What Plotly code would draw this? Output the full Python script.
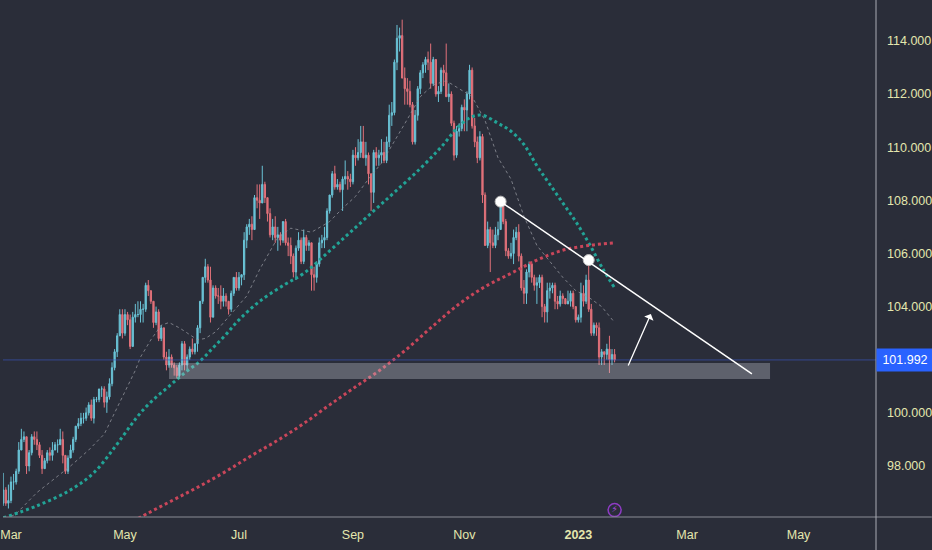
import pandas as pd
import plotly.graph_objects as go

# daily bars, US dollar index, 24 Feb 2022 -> 20 Jan 2023 (weekdays)
dates = pd.bdate_range("2022-02-24", "2023-01-20")

opens = [
    96.6, 97.1, 96.6,
    96.7, 97.4, 97.4, 97.8, 98.6, 99.0, 99.1, 98.0, 98.5, 99.1, 99.0, 98.8, 98.4, 97.9, 98.2, 98.5, 98.4, 98.6, 98.8, 98.8, 99.0, 98.4, 97.8,
    98.3, 98.6, 99.0, 99.5, 99.6, 99.8, 99.8, 100.0, 100.3, 99.8, 100.5, 100.5, 100.9, 100.9, 100.4, 100.6, 101.1, 101.7, 102.3, 102.9, 103.7,
    103.0, 103.7, 103.5, 102.5, 103.6, 103.7, 103.7, 103.9, 103.9, 104.8, 104.6, 104.2, 103.4, 103.8, 102.8, 103.2, 102.1, 101.8, 102.1, 101.8, 101.7, 101.4,
    101.8, 102.6, 101.8, 102.1, 102.4, 102.3, 102.6, 103.2, 104.2, 105.1, 105.5, 105.0, 103.6, 104.7, 104.4, 104.4, 104.2, 104.4, 104.2, 103.9, 104.5, 105.1,
    104.7, 105.1, 105.2, 106.5, 107.0, 107.1, 106.9, 108.1, 108.0, 107.9, 108.6, 108.1, 107.5, 106.7, 107.0, 106.6, 106.7, 106.5, 107.2, 106.4, 106.3,
    105.9, 105.3, 106.2, 106.5, 105.7, 106.6, 106.3, 106.4, 105.2, 105.1, 105.6, 106.4, 106.5, 106.6, 107.6, 108.2, 109.0, 108.5, 108.6, 108.4, 108.8, 108.9, 108.8,
    108.7, 109.7, 109.6, 109.8, 110.2, 109.6, 109.7, 109.0, 108.3, 109.8, 109.6, 109.7, 109.8, 109.5, 110.2, 111.2, 111.3, 113.2, 114.1, 114.2, 112.6, 112.2,
    112.1, 111.6, 110.2, 111.2, 112.2, 112.8, 113.1, 113.3, 113.2, 112.4, 113.3, 112.0, 112.1, 112.9, 112.8, 111.9, 112.0, 110.9, 109.7, 110.6, 110.7,
    111.5, 111.4, 112.0, 112.9, 110.8, 110.2, 109.6, 110.4, 108.2, 106.3, 106.9, 106.4, 106.3, 106.7, 106.9, 107.8, 107.2, 106.1, 105.9, 106.0, 106.6, 106.8,
    105.9, 104.7, 104.5, 105.3, 105.6, 105.1, 104.8, 104.9, 105.1, 104.0, 103.8, 104.6, 104.7, 104.8, 104.2, 104.1, 104.4, 104.3, 104.1, 104.2, 104.5, 104.0,
    103.5, 103.6, 104.5, 104.2, 105.0, 103.9, 103.0, 103.3, 103.2, 102.1, 102.3, 102.2, 102.4, 102.0, 102.2,
]
highs = [
    97.74, 97.2, 97.3,
    97.6, 97.7, 97.9, 98.9, 99.4, 99.3, 99.1, 98.6, 99.2, 99.3, 99.3, 98.9, 98.6, 98.3, 98.6, 98.7, 98.9, 98.9, 99.0, 99.4, 99.3, 98.4, 98.4,
    98.8, 99.1, 99.5, 99.8, 100.0, 100.0, 100.2, 100.4, 100.5, 100.6, 100.6, 100.9, 101.0, 101.0, 100.8, 101.3, 101.9, 102.4, 103.0, 103.9, 103.9,
    103.9, 103.8, 103.7, 103.8, 104.1, 104.2, 104.2, 104.1, 104.9, 105.0, 104.6, 104.2, 104.0, 103.9, 103.3, 103.2, 102.3, 102.4, 102.2, 101.9, 101.8, 101.9,
    102.7, 102.7, 102.2, 102.5, 102.8, 102.6, 103.3, 104.2, 105.1, 105.8, 105.6, 105.5, 104.8, 104.8, 104.7, 104.8, 104.7, 104.5, 104.2, 104.6, 105.1, 105.3,
    105.3, 105.2, 106.8, 107.1, 107.3, 107.4, 108.2, 108.6, 108.6, 109.3, 108.7, 108.1, 107.7, 107.3, 107.4, 107.0, 106.8, 107.2, 107.3, 106.6, 106.6,
    106.0, 106.3, 106.8, 106.6, 106.9, 106.7, 106.5, 106.4, 105.5, 105.7, 106.6, 106.7, 107.0, 107.7, 108.2, 109.1, 109.3, 108.8, 108.7, 108.9, 109.5, 109.1, 109.0,
    109.9, 110.0, 110.3, 110.8, 110.8, 110.2, 109.8, 109.0, 109.9, 110.0, 109.9, 110.3, 110.2, 110.4, 111.6, 111.7, 113.3, 114.6, 114.5, 114.8, 113.0, 112.6,
    112.5, 111.7, 111.4, 112.3, 112.9, 113.2, 113.4, 113.6, 113.9, 113.4, 113.3, 112.3, 113.0, 113.1, 113.9, 112.4, 112.1, 111.0, 110.8, 110.9, 111.6,
    111.8, 112.1, 113.1, 113.0, 111.1, 110.4, 110.6, 110.5, 108.3, 107.2, 107.0, 106.9, 107.0, 107.2, 108.0, 107.9, 107.3, 106.2, 106.4, 106.9, 107.0, 107.1,
    106.0, 105.0, 105.4, 105.7, 105.7, 105.2, 105.1, 105.2, 105.2, 104.1, 104.9, 104.9, 104.9, 104.9, 104.4, 104.6, 104.5, 104.3, 104.6, 104.6, 104.6, 104.0,
    103.7, 104.9, 104.8, 105.2, 105.6, 104.1, 103.4, 103.4, 103.4, 102.4, 102.3, 102.6, 102.9, 102.4, 102.4,
]
lows = [
    96.5, 96.5, 96.4,
    96.6, 97.1, 97.3, 97.7, 98.6, 98.9, 97.7, 97.8, 98.4, 98.8, 98.6, 98.3, 97.7, 97.9, 98.1, 98.2, 98.2, 98.6, 98.5, 98.8, 98.1, 97.7, 97.7,
    98.3, 98.5, 98.9, 99.4, 99.5, 99.6, 99.7, 99.9, 99.7, 99.6, 100.4, 100.4, 100.6, 100.2, 100.0, 100.5, 101.0, 101.6, 102.1, 102.9, 102.8,
    102.9, 103.3, 102.4, 102.5, 103.4, 103.6, 103.4, 103.4, 103.8, 104.4, 104.1, 103.2, 103.3, 102.7, 102.7, 102.0, 101.6, 101.7, 101.7, 101.4, 101.3, 101.3,
    101.6, 101.6, 101.6, 102.0, 102.2, 102.2, 102.3, 103.0, 104.1, 104.9, 104.9, 103.4, 103.6, 104.3, 104.1, 103.9, 104.0, 104.0, 103.7, 103.8, 104.4, 104.6,
    104.6, 104.8, 105.0, 106.2, 106.7, 106.5, 107.0, 107.7, 107.3, 107.9, 107.9, 107.2, 106.6, 106.5, 106.4, 106.1, 106.3, 106.4, 106.3, 105.9, 105.6,
    105.1, 105.0, 106.1, 105.6, 105.6, 106.1, 106.1, 104.6, 104.6, 104.9, 105.5, 106.2, 106.2, 106.5, 107.5, 108.1, 108.4, 108.4, 108.3, 107.6, 108.6, 108.4, 108.5,
    108.6, 109.3, 109.5, 109.6, 109.6, 109.3, 108.6, 107.6, 107.9, 109.3, 109.3, 109.4, 109.4, 109.4, 110.0, 110.8, 111.2, 112.9, 113.6, 112.6, 111.6, 111.6,
    111.5, 110.1, 110.1, 111.0, 112.0, 112.6, 112.8, 112.9, 112.2, 112.3, 111.9, 111.7, 112.0, 112.3, 111.9, 111.7, 110.8, 109.5, 109.6, 110.4, 110.6,
    110.6, 110.6, 111.8, 110.7, 110.0, 109.4, 109.5, 107.9, 106.3, 106.2, 105.3, 106.2, 106.2, 106.5, 106.9, 107.1, 105.9, 105.8, 105.8, 105.6, 106.5, 105.7,
    104.6, 104.1, 104.1, 105.1, 104.9, 104.6, 104.1, 104.7, 103.6, 103.4, 103.4, 104.3, 104.5, 103.9, 103.9, 104.0, 104.1, 104.1, 104.1, 104.0, 103.9, 103.4,
    103.4, 103.4, 104.0, 104.1, 103.8, 102.9, 102.9, 102.9, 101.8, 101.8, 101.8, 102.0, 101.5, 101.8, 101.9,
]
closes = [
    97.1, 96.6, 96.7,
    97.4, 97.4, 97.8, 98.6, 99.0, 99.1, 98.0, 98.5, 99.1, 99.0, 98.8, 98.4, 97.9, 98.2, 98.5, 98.4, 98.6, 98.8, 98.8, 99.0, 98.4, 97.8, 98.3,
    98.6, 99.0, 99.5, 99.6, 99.8, 99.8, 100.0, 100.3, 99.8, 100.5, 100.5, 100.9, 100.9, 100.4, 100.6, 101.1, 101.7, 102.3, 102.9, 103.7, 103.0,
    103.7, 103.5, 102.5, 103.6, 103.7, 103.7, 103.9, 103.9, 104.8, 104.6, 104.2, 103.4, 103.8, 102.8, 103.2, 102.1, 101.8, 102.1, 101.8, 101.7, 101.4, 101.8,
    102.6, 101.8, 102.1, 102.4, 102.3, 102.6, 103.2, 104.2, 105.1, 105.5, 105.0, 103.6, 104.7, 104.4, 104.4, 104.2, 104.4, 104.2, 103.9, 104.5, 105.1, 104.7,
    105.1, 105.2, 106.5, 107.0, 107.1, 106.9, 108.1, 108.0, 107.9, 108.6, 108.1, 107.5, 106.7, 107.0, 106.6, 106.7, 106.5, 107.2, 106.4, 106.3, 105.9,
    105.3, 106.2, 106.5, 105.7, 106.6, 106.3, 106.4, 105.2, 105.1, 105.6, 106.4, 106.5, 106.6, 107.6, 108.2, 109.0, 108.5, 108.6, 108.4, 108.8, 108.9, 108.8, 108.7,
    109.7, 109.6, 109.8, 110.2, 109.6, 109.7, 109.0, 108.3, 109.8, 109.6, 109.7, 109.8, 109.5, 110.2, 111.2, 111.3, 113.2, 114.1, 114.2, 112.6, 112.2, 112.1,
    111.6, 110.2, 111.2, 112.2, 112.8, 113.1, 113.3, 113.2, 112.4, 113.3, 112.0, 112.1, 112.9, 112.8, 111.9, 112.0, 110.9, 109.7, 110.6, 110.7, 111.5,
    111.4, 112.0, 112.9, 110.8, 110.2, 109.6, 110.4, 108.2, 106.3, 106.9, 106.4, 106.3, 106.7, 106.9, 107.8, 107.2, 106.1, 105.9, 106.0, 106.6, 106.8, 105.9,
    104.7, 104.5, 105.3, 105.6, 105.1, 104.8, 104.9, 105.1, 104.0, 103.8, 104.6, 104.7, 104.8, 104.2, 104.1, 104.4, 104.3, 104.1, 104.2, 104.5, 104.0, 103.5,
    103.6, 104.5, 104.2, 105.0, 103.9, 103.0, 103.3, 103.2, 102.1, 102.3, 102.2, 102.4, 102.0, 102.2, 101.992,
]

# moving averages (weekly samples)
ma20_dates = ["2022-02-25", "2022-03-03", "2022-03-15", "2022-04-01", "2022-04-12", "2022-04-20",
              "2022-04-26", "2022-04-29", "2022-05-06", "2022-05-10", "2022-05-16", "2022-05-20",
              "2022-05-25", "2022-05-31", "2022-06-06", "2022-06-09", "2022-06-14", "2022-06-20",
              "2022-06-24", "2022-07-01", "2022-07-06", "2022-07-13", "2022-07-22", "2022-07-29",
              "2022-08-10", "2022-08-19", "2022-08-26", "2022-09-02", "2022-09-09", "2022-09-16",
              "2022-09-23", "2022-09-30", "2022-10-07", "2022-10-14", "2022-10-21", "2022-10-28",
              "2022-11-04", "2022-11-11", "2022-11-18", "2022-11-25", "2022-12-02", "2022-12-09",
              "2022-12-16", "2022-12-23", "2022-12-30", "2023-01-06", "2023-01-13", "2023-01-20"]
ma20_vals = [96.0, 96.2, 97.0, 98.0, 98.6, 99.2,
             100.0, 100.6, 101.6, 102.1, 102.75, 103.3,
             103.4, 103.2, 102.95, 102.75, 102.8, 103.05,
             103.5, 104.05, 104.4, 105.4, 106.6, 106.95,
             106.8, 107.2, 107.7, 108.15, 108.8, 109.4,
             110.2, 111.05, 111.9, 112.35, 112.5, 112.2,
             111.9, 111.0, 109.6, 108.8, 107.4, 106.3,
             105.7, 105.1, 104.6, 104.35, 104.0, 103.4]

ma50_dates = ["2022-02-24", "2022-03-15", "2022-04-01", "2022-04-14", "2022-04-26", "2022-05-04",
              "2022-05-10", "2022-05-17", "2022-05-25", "2022-06-02", "2022-06-10", "2022-06-17",
              "2022-06-24", "2022-07-01", "2022-07-13", "2022-07-27", "2022-08-05", "2022-08-19",
              "2022-08-31", "2022-09-13", "2022-09-23", "2022-10-07", "2022-10-19", "2022-10-28",
              "2022-11-04", "2022-11-10", "2022-11-18", "2022-11-25", "2022-12-02", "2022-12-09",
              "2022-12-16", "2022-12-23", "2022-12-30", "2023-01-06", "2023-01-13", "2023-01-20"]
ma50_vals = [96.05, 96.5, 97.1, 97.75, 98.7, 99.5,
             100.0, 100.5, 101.0, 101.5, 101.95, 102.45,
             102.95, 103.5, 104.2, 104.85, 105.25, 106.1,
             106.8, 107.6, 108.3, 109.2, 110.0, 110.8,
             111.15, 111.2, 110.9, 110.6, 110.1, 109.3,
             108.6, 107.9, 107.2, 106.4, 105.5, 104.7]

ma200_dates = ["2022-04-29", "2022-05-13", "2022-05-27", "2022-06-10", "2022-06-24", "2022-07-08",
               "2022-07-22", "2022-08-05", "2022-08-19", "2022-09-02", "2022-09-16", "2022-09-30",
               "2022-10-14", "2022-10-28", "2022-11-11", "2022-11-25", "2022-12-09", "2022-12-23",
               "2023-01-06", "2023-01-20"]
ma200_vals = [95.71, 96.23, 96.74, 97.25, 97.8, 98.4,
              98.97, 99.6, 100.3, 100.98, 101.65, 102.42,
              103.28, 104.1, 104.75, 105.25, 105.75, 106.12,
              106.3, 106.4]

# drawings on the chart
zone_dates = ["2022-05-25", "2023-04-14"]
zone_prices = [101.27, 101.88]
trend_dates = ["2022-11-21", "2023-04-05"]
trend_prices = [107.95, 101.47]
point_dates = ["2022-11-21", "2023-01-06"]
point_prices = [107.95, 105.75]
arrow_dates = ["2023-01-27", "2023-02-09"]
arrow_prices = [101.73, 103.72]
last_price = 101.992

tick_dates = ["2022-03-01", "2022-05-02", "2022-07-01", "2022-09-01", "2022-11-01",
              "2023-01-02", "2023-03-01", "2023-05-01"]
tick_labels = ["Mar", "May", "Jul", "Sep", "Nov", "<b>2023</b>", "Mar", "May"]
price_ticks = [98, 100, 104, 106, 108, 110, 112, 114]

BG = "#2a2d39"
UP = "#6ac3d6"
DOWN = "#e2717a"
TXT = "#e4e7ae"

fig = go.Figure()

fig.add_trace(go.Candlestick(
    x=dates, open=opens, high=highs, low=lows, close=closes,
    increasing=dict(line=dict(color=UP, width=1), fillcolor=UP),
    decreasing=dict(line=dict(color=DOWN, width=1), fillcolor=DOWN),
    whiskerwidth=0, showlegend=False,
))

fig.add_trace(go.Scatter(x=ma20_dates, y=ma20_vals, mode="lines",
                         line=dict(color="rgba(150,152,160,0.75)", width=1, dash="dot"),
                         showlegend=False, hoverinfo="skip"))
fig.add_trace(go.Scatter(x=ma50_dates, y=ma50_vals, mode="lines", line_shape="spline",
                         line=dict(color="#22a396", width=3, dash="dot"),
                         showlegend=False, hoverinfo="skip"))
fig.add_trace(go.Scatter(x=ma200_dates, y=ma200_vals, mode="lines", line_shape="spline",
                         line=dict(color="#c9465a", width=3, dash="dot"),
                         showlegend=False, hoverinfo="skip"))

# support zone, last price line, trend line
fig.add_shape(type="rect", x0=zone_dates[0], x1=zone_dates[1], y0=zone_prices[0], y1=zone_prices[1],
              fillcolor="rgba(200,203,212,0.33)", line=dict(width=0), layer="above")
fig.add_shape(type="line", xref="paper", x0=0, x1=1, y0=last_price, y1=last_price,
              line=dict(color="rgba(60,90,200,0.6)", width=1))
fig.add_shape(type="line", x0=trend_dates[0], x1=trend_dates[1], y0=trend_prices[0], y1=trend_prices[1],
              line=dict(color="white", width=1.5))

# scale borders running into the margins
fig.add_shape(type="line", xref="paper", yref="paper", x0=0, x1=932 / 876, y0=0, y1=0,
              line=dict(color="#8a8d96", width=1))
fig.add_shape(type="line", xref="paper", yref="paper", x0=1, x1=1, y0=-33 / 517, y1=1,
              line=dict(color="#a9acb5", width=1))

fig.add_trace(go.Scatter(x=point_dates, y=point_prices, mode="markers",
                         marker=dict(color="white", size=11, line=dict(color="#bbbbbb", width=1)),
                         showlegend=False, hoverinfo="skip"))

fig.add_annotation(x=arrow_dates[1], y=arrow_prices[1], ax=arrow_dates[0], ay=arrow_prices[0],
                   xref="x", yref="y", axref="x", ayref="y", text="", showarrow=True,
                   arrowhead=1, arrowsize=1.3, arrowwidth=1.3, arrowcolor="white")

# small event marker on the time axis
fig.add_trace(go.Scatter(x=[dates[-1]], y=[96.34], mode="markers+text", text=["⚡"],
                         textfont=dict(color="#b04be0", size=9, family="DejaVu Sans"),
                         marker=dict(color=BG, size=13, line=dict(color="#8e3bc4", width=1.5)),
                         showlegend=False, hoverinfo="skip"))

# last price tag on the price scale
fig.add_annotation(xref="paper", x=1, xanchor="left", y=last_price, yref="y",
                   text=f"{last_price:.3f}", showarrow=False, bgcolor="#2962ff",
                   font=dict(color="white", size=12.5, family="Liberation Sans"),
                   width=48, borderpad=4, align="center")

fig.update_layout(
    width=932, height=550,
    paper_bgcolor=BG, plot_bgcolor=BG,
    margin=dict(l=0, r=56, t=0, b=33),
    font=dict(family="Liberation Sans", size=12.5, color=TXT),
    xaxis=dict(
        type="date",
        range=["2022-02-23 22:00", "2023-06-09 21:36"],
        rangebreaks=[dict(bounds=["sat", "mon"])],
        rangeslider=dict(visible=False),
        tickvals=tick_dates, ticktext=tick_labels,
        showgrid=False, zeroline=False, showline=False,
        ticks="", ticklabelstandoff=8, ticklabeloverflow="allow",
    ),
    yaxis=dict(
        side="right",
        range=[96.08, 115.54],
        tickvals=price_ticks, ticktext=[f"{p:.3f}" for p in price_ticks],
        showgrid=False, zeroline=False, showline=False,
        ticks="", ticklabelstandoff=10,
    ),
    hovermode=False,
)

fig.write_html("out.html", config={"displayModeBar": False},
               post_script="document.body.style.margin='0';")
